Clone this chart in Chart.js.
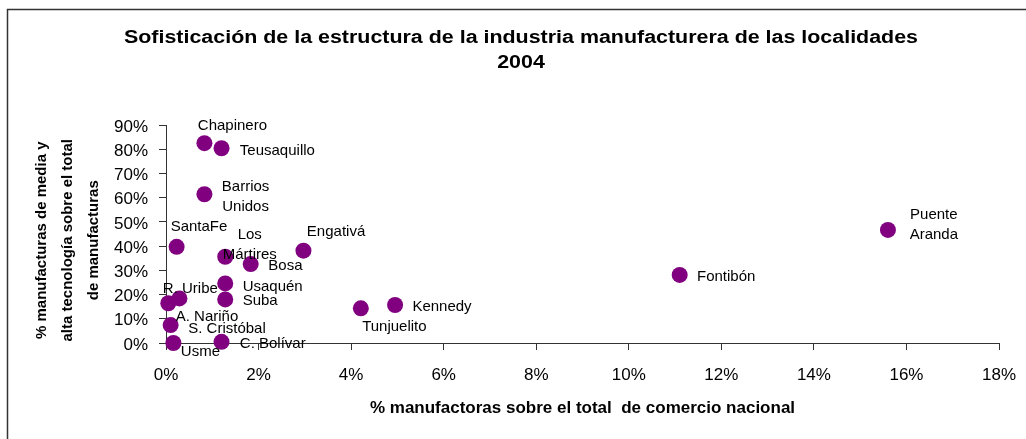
<!DOCTYPE html>
<html>
<head>
<meta charset="utf-8">
<script src="https://cdn.jsdelivr.net/npm/chart.js@4"></script>
<style>body{margin:0;background:#fff}</style>
</head>
<body>
<canvas id="chart" width="1026" height="439"></canvas>
<script>
// localidades, x = % manufactura sobre comercio nacional, y = % media/alta tecnologia
const localidades = ["Chapinero","Teusaquillo","Barrios\nUnidos","SantaFe","Los\nMártires","Bosa","Engativá","Usaquén","Suba","R. Uribe","A. Nariño","S. Cristóbal","Usme","C. Bolívar","Tunjuelito","Kennedy","Fontibón","Puente\nAranda"];
const pctComercio = [0.83,1.20,0.83,0.23,1.28,1.83,2.97,1.28,1.28,0.29,0.05,0.10,0.16,1.20,4.21,4.95,11.1,15.6];
const pctAltaTec = [82.5,80.4,61.4,39.7,35.6,32.6,38.1,24.6,18.0,18.4,16.4,7.4,0.0,0.5,14.3,15.7,28.1,46.7];
const xTicks = [0,2,4,6,8,10,12,14,16,18];
const yTicks = [0,10,20,30,40,50,60,70,80,90];

const titulo = ["Sofisticación de la estructura de la industria manufacturera de las localidades", "2004"];
const tituloX = "% manufactoras sobre el total  de comercio nacional";
const tituloY = ["% manufacturas de media y", "alta tecnología sobre el total", "de manufacturas"];

// where each label sits relative to its point (left edge, middle of first line)
const labelOffsets = [[-6.6,-17.3],[18.3,2.4],[17.4,-7.6],[-6,-20],[-2.6,-21.7],[17.6,1.7],[3.4,-19],[17.4,3.4],[17.4,1.7],[-16.6,-10],[7.4,13.4],[17.6,3.3],[7.4,9],[18.3,1.6],[1.3,18.4],[17.3,1.7],[17.3,2.3],[21.7,-15]];

Chart.defaults.font.family = "'Liberation Sans', Arial, sans-serif";
Chart.defaults.color = '#000';

const frame = {
  id: 'frame',
  beforeDraw(chart) {
    const ctx = chart.ctx;
    ctx.save();
    ctx.fillStyle = '#fff';
    ctx.fillRect(0, 0, chart.width, chart.height);
    ctx.strokeStyle = '#333';
    ctx.lineWidth = 1.5;
    ctx.strokeRect(7.5, 9.5, 1100, 500);
    ctx.font = "bold 18px 'Liberation Sans', Arial, sans-serif";
    ctx.fillStyle = '#000';
    ctx.textAlign = 'center';
    ctx.textBaseline = 'middle';
    // the original title is drawn a bit wider than normal
    titulo.forEach((t, i) => {
      ctx.save();
      ctx.translate(521, 38 + i * 25);
      ctx.scale(1.19, 1);
      ctx.fillText(t, 0, 0);
      ctx.restore();
    });
    ctx.restore();
  }
};

const pointLabels = {
  id: 'pointLabels',
  afterDatasetsDraw(chart) {
    const ctx = chart.ctx;
    const meta = chart.getDatasetMeta(0);
    ctx.save();
    ctx.font = "15px 'Liberation Sans', Arial, sans-serif";
    ctx.fillStyle = '#000';
    ctx.textBaseline = 'middle';
    meta.data.forEach((pt, i) => {
      const lines = localidades[i].split('\n');
      const w = Math.max(...lines.map(l => ctx.measureText(l).width));
      const [dx, dy] = labelOffsets[i];
      lines.forEach((l, j) => {
        const lw = ctx.measureText(l).width;
        ctx.fillText(l, pt.x + dx + (w - lw) / 2, pt.y + dy + j * 20);
      });
    });
    ctx.restore();
  }
};

new Chart(document.getElementById('chart'), {
  type: 'scatter',
  data: {
    datasets: [{
      data: pctComercio.map((x, i) => ({x: x, y: pctAltaTec[i]})),
      backgroundColor: '#800080',
      borderColor: '#800080',
      borderWidth: 0,
      pointRadius: 8,
      pointHoverRadius: 8,
      clip: false
    }]
  },
  options: {
    responsive: false,
    animation: false,
    layout: {padding: {left: 0, top: 125, right: 27, bottom: 0}},
    plugins: {legend: {display: false}, tooltip: {enabled: false}},
    scales: {
      x: {
        type: 'linear',
        min: 0, max: 18,
        afterBuildTicks: s => { s.ticks = xTicks.map(v => ({value: v})); },
        afterFit: s => { s.height = 96; s.paddingLeft = 0; s.paddingRight = 0; },
        ticks: {font: {size: 17}, padding: 15, callback: v => v + '%'},
        grid: {drawOnChartArea: false, drawTicks: true, tickLength: 7, color: '#333'},
        border: {display: true, color: '#333', width: 1},
        title: {display: true, text: tituloX, font: {size: 17, weight: 'bold'}, padding: {top: 0, bottom: 20}}
      },
      y: {
        type: 'linear',
        min: 0, max: 90,
        afterBuildTicks: s => { s.ticks = yTicks.map(v => ({value: v})); },
        afterFit: s => { s.width = 166; },
        ticks: {font: {size: 17}, padding: 11, labelOffset: 2, callback: v => v + '%'},
        grid: {drawOnChartArea: false, drawTicks: true, tickLength: 7, color: '#333'},
        border: {display: true, color: '#333', width: 1},
        // trailing spaces nudge the rotated title down a little, as in the original
        title: {display: true, text: tituloY.map(t => t + '   '), font: {size: 15, weight: 'bold', lineHeight: 1.72}, padding: {top: 29, bottom: 0}}
      }
    }
  },
  plugins: [frame, pointLabels]
});
</script>
</body>
</html>
